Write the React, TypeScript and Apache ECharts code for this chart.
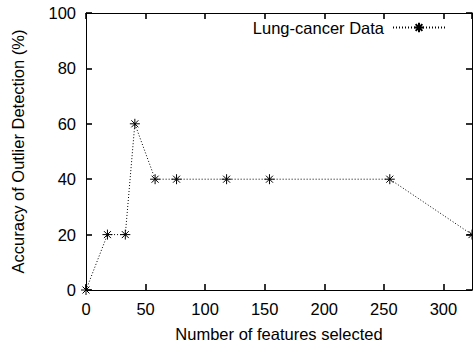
import React, { useEffect, useRef } from "react";
import * as echarts from "echarts";

const featureCounts = [0, 18, 33, 41, 58, 76, 118, 154, 255, 324];
const accuracy = [0, 20, 20, 60, 40, 40, 40, 40, 40, 20];
const xTicks = [0, 50, 100, 150, 200, 250, 300];
const yTicks = [0, 20, 40, 60, 80, 100];
const seriesName = "Lung-cancer Data";

const FONT = "'Liberation Sans', Arial, Helvetica, sans-serif";
const STAR = "path://M0,5L10,5M5,0L5,10M1.5,1.5L8.5,8.5M8.5,1.5L1.5,8.5";

export default function App() {
  const ref = useRef<HTMLDivElement>(null);
  useEffect(() => {
    if (!ref.current) return;
    const chart = echarts.init(ref.current, null, { renderer: "svg" });
    const xMax = featureCounts[featureCounts.length - 1];
    const line = { show: true, onZero: false, lineStyle: { color: "#000", width: 1 } };
    const tick = { show: true, inside: true, length: 6, lineStyle: { color: "#000", width: 1.6 } };
    chart.setOption({
      animation: false,
      textStyle: { fontFamily: FONT },
      grid: { left: 86, right: 1, top: 13, bottom: 54 },
      legend: {
        data: [seriesName],
        right: 22,
        top: 14,
        align: "right",
        itemWidth: 52,
        itemHeight: 12,
        itemGap: 10,
        textStyle: { fontFamily: FONT, fontSize: 16.5, color: "#000", padding: [0, 4, 0, 0] },
      },
      xAxis: [
        {
          type: "value",
          min: 0,
          max: xMax,
          interval: 50,
          axisLine: line,
          axisTick: tick,
          splitLine: { show: false },
          axisLabel: {
            show: true,
            color: "#000",
            fontSize: 16.5,
            fontFamily: FONT,
            margin: 10,
            showMaxLabel: false,
            formatter: (v: number) => (xTicks.includes(v) ? String(v) : ""),
          },
          name: "Number of features selected",
          nameLocation: "middle",
          nameGap: 35,
          nameTextStyle: { color: "#000", fontSize: 16.5, fontFamily: FONT },
        },
        {
          type: "value",
          position: "top",
          min: 0,
          max: xMax,
          interval: 50,
          axisLine: line,
          axisTick: tick,
          splitLine: { show: false },
          axisLabel: { show: false },
        },
      ],
      yAxis: [
        {
          type: "value",
          min: 0,
          max: 100,
          interval: 20,
          axisLine: line,
          axisTick: tick,
          splitLine: { show: false },
          axisLabel: {
            show: true,
            color: "#000",
            fontSize: 16.5,
            fontFamily: FONT,
            margin: 10,
            formatter: (v: number) => (yTicks.includes(v) ? String(v) : ""),
          },
          name: "Accuracy of Outlier Detection (%)",
          nameLocation: "middle",
          nameGap: 60,
          nameTextStyle: { color: "#000", fontSize: 16.5, fontFamily: FONT },
        },
        {
          type: "value",
          position: "right",
          min: 0,
          max: 100,
          interval: 20,
          axisLine: line,
          axisTick: tick,
          splitLine: { show: false },
          axisLabel: { show: false },
        },
      ],
      series: [
        {
          name: seriesName,
          type: "line",
          data: featureCounts.map((x, i) => [x, accuracy[i]]),
          symbol: STAR,
          symbolSize: 10,
          showAllSymbol: true,
          clip: false,
          lineStyle: { color: "#000", width: 1, type: [1, 2] },
          itemStyle: { color: "#000", borderColor: "#000", borderWidth: 1 },
        },
      ],
    });
    return () => chart.dispose();
  }, []);
  return <div ref={ref} style={{ width: 473, height: 347, position: "absolute", left: 0, top: 0, background: "#fff" }} />;
}
